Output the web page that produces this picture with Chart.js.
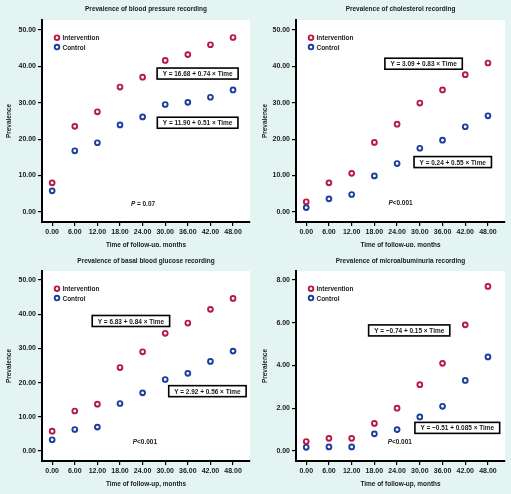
<!DOCTYPE html>
<html>
<head>
<meta charset="utf-8">
<script src="https://cdn.jsdelivr.net/npm/chart.js@4.4.1/dist/chart.umd.min.js"></script>
<style>
  html, body { margin: 0; padding: 0; background: #e3f4f2; }
  #wrap { position: relative; width: 511px; height: 494px; overflow: hidden; }
  canvas { position: absolute; }
</style>
</head>
<body>
<div id="wrap">
  <canvas id="c1" width="256" height="247" style="left:0;top:0"></canvas>
  <canvas id="c2" width="255" height="247" style="left:256px;top:0"></canvas>
  <canvas id="c3" width="256" height="247" style="left:0;top:247px"></canvas>
  <canvas id="c4" width="255" height="247" style="left:256px;top:247px"></canvas>
</div>
<script>
// ---- data ----
const months = [0, 6, 12, 18, 24, 30, 36, 42, 48];
const xTicks = [0, 6, 12, 18, 24, 30, 36, 42, 48];
const yTicksMain = [0, 10, 20, 30, 40, 50];
const yTicksMicro = [0, 2, 4, 6, 8];

const bpIntervention = [8.0, 23.5, 27.5, 34.3, 37.0, 41.6, 43.2, 45.9, 47.9];
const bpControl      = [5.8, 16.8, 19.0, 23.9, 26.1, 29.5, 30.1, 31.5, 33.5];

const cholIntervention = [2.8, 8.0, 10.6, 19.1, 24.1, 29.9, 33.5, 37.7, 40.9];
const cholControl      = [1.2, 3.6, 4.8, 9.9, 13.3, 17.5, 19.7, 23.4, 26.4];

const glucIntervention = [5.8, 11.7, 13.7, 24.4, 29.0, 34.4, 37.4, 41.4, 44.6];
const glucControl      = [3.3, 6.3, 7.0, 13.9, 17.0, 20.9, 22.7, 26.2, 29.2];

const microIntervention = [0.44, 0.59, 0.59, 1.29, 2.0, 3.1, 4.1, 5.9, 7.7];
const microControl      = [0.17, 0.19, 0.19, 0.8, 1.0, 1.59, 2.09, 3.3, 4.4];

const seriesNames = ['Intervention', 'Control'];
const panelTitles = [
  'Prevalence of blood pressure recording',
  'Prevalence of cholesterol recording',
  'Prevalence of basal blood glucose recording',
  'Prevalence of microalbuminuria recording'
];
const equations = [
  ['Y = 16.68 + 0.74 \u00d7 Time', 'Y = 11.90 + 0.51 \u00d7 Time'],
  ['Y = 3.09 + 0.83 \u00d7 Time', 'Y = 0.24 + 0.55 \u00d7 Time'],
  ['Y = 6.83 + 0.84 \u00d7 Time', 'Y = 2.92 + 0.56 \u00d7 Time'],
  ['Y = \u22120.74 + 0.15 \u00d7 Time', 'Y = \u22120.51 + 0.085 \u00d7 Time']
];
const pValues = [' = 0.07', '<0.001', '<0.001', '<0.001'];
const xTitle = 'Time of follow-up, months';
const yTitle = 'Prevalence';

// ---- styling ----
const FONT = "'Liberation Sans', Arial, sans-serif";
const FS = 7.5;      // text size for titles, legend, boxes
const SQ = 0.86;     // horizontal squeeze, the original uses a condensed face
const RED = '#b3194b';
const BLUE = '#1c3d9c';
const TXT = '#1a1a1a';

// draws squeezed text, returns its drawn width
function sqText(ctx, text, x, y, align, style) {
  ctx.font = (style || 'bold') + ' ' + FS + 'px ' + FONT;
  const w = ctx.measureText(text).width * SQ;
  let x0 = x;
  if (align === 'center') x0 = x - w / 2;
  else if (align === 'right') x0 = x - w;
  ctx.save();
  ctx.translate(x0, y);
  ctx.scale(SQ, 1);
  ctx.textAlign = 'left';
  ctx.textBaseline = 'middle';
  ctx.fillText(text, 0, 0);
  ctx.restore();
  return w;
}
function sqWidth(ctx, text, style) {
  ctx.font = (style || 'bold') + ' ' + FS + 'px ' + FONT;
  return ctx.measureText(text).width * SQ;
}

// white plot area, titles, legend, equation boxes and P label
const panelDecor = {
  id: 'panelDecor',
  beforeDraw(chart) {
    const { ctx, chartArea: a } = chart;
    ctx.save();
    ctx.fillStyle = '#fff';
    ctx.fillRect(a.left, a.top, a.right - a.left, a.bottom - a.top);
    ctx.restore();
  },
  afterDatasetsDraw(chart, args, opts) {
    const { ctx, chartArea: a, scales: { x, y } } = chart;
    ctx.save();
    ctx.fillStyle = TXT;

    // panel title and axis titles
    const midX = (a.left + a.right) / 2;
    sqText(ctx, opts.title, midX, a.top - opts.titleGap, 'center');
    sqText(ctx, xTitle, midX, a.bottom + 23, 'center');
    ctx.save();
    ctx.translate(8.5, (a.top + a.bottom) / 2);
    ctx.rotate(-Math.PI / 2);
    sqText(ctx, yTitle, 0, 0, 'center');
    ctx.restore();

    // legend
    chart.data.datasets.forEach((ds, i) => {
      const cy = a.top + 17.7 + i * 9.4;
      ctx.beginPath();
      ctx.arc(a.left + 15, cy, 2.3, 0, Math.PI * 2);
      ctx.strokeStyle = ds.borderColor;
      ctx.lineWidth = 1.9;
      ctx.stroke();
      ctx.fillStyle = TXT;
      sqText(ctx, ds.label, a.left + 20.5, cy + 0.5, 'left');
    });

    // equation boxes
    opts.boxes.forEach(b => {
      const cx = x.getPixelForValue(b.x);
      const cy = y.getPixelForValue(b.y);
      const w = sqWidth(ctx, b.text) + 11;
      const h = 11;
      ctx.fillStyle = '#fff';
      ctx.fillRect(cx - w / 2, cy - h / 2, w, h);
      ctx.strokeStyle = '#000';
      ctx.lineWidth = 1.6;
      ctx.strokeRect(cx - w / 2, cy - h / 2, w, h);
      ctx.fillStyle = TXT;
      sqText(ctx, b.text, cx, cy + 0.5, 'center');
    });

    // P value, italic P
    const px = x.getPixelForValue(opts.p.x);
    const py = y.getPixelForValue(opts.p.y);
    const wP = sqWidth(ctx, 'P', 'italic bold');
    const wR = sqWidth(ctx, opts.p.text);
    const sx = px - (wP + wR) / 2;
    sqText(ctx, 'P', sx, py, 'left', 'italic bold');
    sqText(ctx, opts.p.text, sx + wP, py, 'left');
    ctx.restore();
  }
};

function makePanel(id, idx, inter, ctrl, yTicks, yMin, yMax, leftW, top, bottomH, titleGap, boxes, p) {
  const pts = arr => months.map((m, i) => ({ x: m, y: arr[i] }));
  const tickFont = { family: FONT, size: 7, weight: 'bold' };
  new Chart(document.getElementById(id), {
    type: 'scatter',
    data: {
      datasets: [
        { label: seriesNames[0], data: pts(inter), borderColor: RED, backgroundColor: 'rgba(0,0,0,0)',
          pointRadius: 2.4, pointBorderWidth: 1.9, pointHoverRadius: 2.4 },
        { label: seriesNames[1], data: pts(ctrl), borderColor: BLUE, backgroundColor: 'rgba(0,0,0,0)',
          pointRadius: 2.4, pointBorderWidth: 1.9, pointHoverRadius: 2.4 }
      ]
    },
    options: {
      responsive: false,
      animation: false,
      devicePixelRatio: 1,
      layout: { padding: { left: 0, right: 6, top: top, bottom: 0 } },
      plugins: {
        legend: { display: false },
        tooltip: { enabled: false },
        title: { display: false },
        panelDecor: { title: panelTitles[idx], titleGap: titleGap, boxes: boxes, p: p }
      },
      scales: {
        x: {
          type: 'linear',
          min: -2.7, max: 52.5,
          afterBuildTicks: s => { s.ticks = xTicks.map(v => ({ value: v })); },
          afterFit: s => { s.height = bottomH; },
          grid: { drawOnChartArea: false, drawTicks: true, tickLength: 4, color: '#000', lineWidth: 1.2 },
          border: { display: true, color: '#000', width: 2 },
          ticks: { color: TXT, font: tickFont, padding: 1.5, maxRotation: 0, autoSkip: false,
                   callback: v => v.toFixed(2) }
        },
        y: {
          type: 'linear',
          min: yMin, max: yMax,
          afterBuildTicks: s => { s.ticks = yTicks.map(v => ({ value: v })); },
          afterFit: s => { s.width = leftW; },
          grid: { drawOnChartArea: false, drawTicks: true, tickLength: 4, color: '#000', lineWidth: 1.2 },
          border: { display: true, color: '#000', width: 2 },
          ticks: { color: TXT, font: tickFont, padding: 2, autoSkip: false, callback: v => v.toFixed(2) }
        }
      }
    },
    plugins: [panelDecor]
  });
}

makePanel('c1', 0, bpIntervention, bpControl, yTicksMain, -2.75, 52.7, 42, 20, 25, 11.5,
  [{ x: 38.6, y: 38.0, text: equations[0][0] }, { x: 38.6, y: 24.5, text: equations[0][1] }],
  { x: 24.1, y: 2.2, text: pValues[0] });

makePanel('c2', 1, cholIntervention, cholControl, yTicksMain, -2.75, 52.7, 40, 20, 25, 11.5,
  [{ x: 31.0, y: 40.7, text: equations[1][0] }, { x: 38.7, y: 13.7, text: equations[1][1] }],
  { x: 24.9, y: 2.5, text: pValues[1] });

makePanel('c3', 2, glucIntervention, glucControl, yTicksMain, -2.9, 52.6, 42, 24, 33, 10.3,
  [{ x: 20.9, y: 38.0, text: equations[2][0] }, { x: 41.2, y: 17.5, text: equations[2][1] }],
  { x: 24.6, y: 2.6, text: pValues[2] });

makePanel('c4', 3, microIntervention, microControl, yTicksMicro, -0.47, 8.42, 40, 24, 33, 10.3,
  [{ x: 27.2, y: 5.64, text: equations[3][0] }, { x: 39.9, y: 1.08, text: equations[3][1] }],
  { x: 24.7, y: 0.42, text: pValues[3] });
</script>
</body>
</html>
